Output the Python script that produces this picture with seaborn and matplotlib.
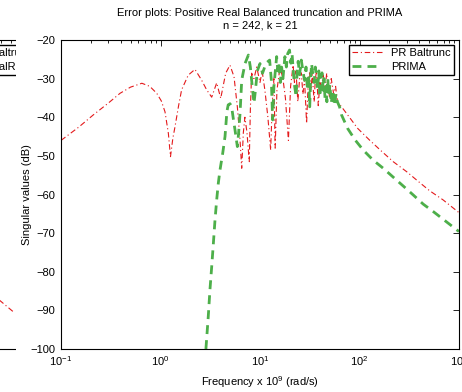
import matplotlib
matplotlib.use("Agg")
import matplotlib.pyplot as plt
from matplotlib.lines import Line2D
from matplotlib.patches import Rectangle
from matplotlib.ticker import LogLocator, NullFormatter, FixedLocator, FixedFormatter
import pandas as pd
import seaborn as sns

# ---------------- data ----------------
red_freq = [0.10, 0.15, 0.211, 0.30, 0.392, 0.50, 0.65, 0.78, 0.917, 1.02, 1.11, 1.20, 1.26,
            1.33, 1.40, 1.52, 1.63, 1.90, 2.22, 2.59, 2.91, 3.27, 3.67, 4.03, 4.52, 4.99, 5.48,
            5.92, 6.30, 6.55, 6.80, 7.05, 7.40, 7.80, 8.00, 8.24, 8.70, 9.27, 10.0, 10.5, 11.2,
            12.0, 12.8, 13.3, 13.8, 14.2, 14.8, 15.9, 17.0, 18.0, 19.3, 20.3, 21.5, 22.2, 23.0,
            24.0, 25.0, 26.0, 27.0, 28.0, 29.4, 30.5, 31.5, 32.5, 33.5, 35.0, 36.0, 37.0, 38.5,
            40.0, 41.5, 43.0, 44.5, 46.8, 48.5, 50.0, 52.0, 55.0, 57.5, 60.0,
            66.0, 76.0, 96.0, 126.0, 165.0, 218.0, 298.0, 385.0, 505.0, 692.0, 1000.0]
red_db = [-46.0, -42.6, -39.4, -36.3, -33.8, -32.2, -31.2, -32.0, -33.8, -35.8, -38.6, -44.2, -50.2,
          -45.5, -42.4, -37.0, -32.9, -29.1, -27.6, -30.4, -32.9, -34.8, -31.1, -35.1, -28.6, -26.5, -29.5,
          -37.3, -45.9, -53.2, -44.0, -40.0, -44.0, -51.5, -38.0, -28.6, -30.0, -27.0, -31.0, -28.0, -33.0,
          -40.0, -48.5, -36.0, -30.0, -48.0, -33.0, -27.0, -30.0, -35.0, -46.0, -32.0, -26.5, -31.0, -28.0,
          -36.0, -30.0, -28.5, -34.0, -30.0, -41.6, -31.0, -28.5, -33.0, -29.0, -36.0, -30.0, -28.0, -37.0,
          -31.0, -33.0, -29.0, -34.0, -28.6, -32.0, -35.0, -30.0, -34.0, -32.0, -36.0,
          -37.3, -39.4, -42.9, -45.9, -48.7, -51.5, -54.1, -56.5, -59.0, -61.4, -64.7]

green_freq = [2.86, 3.02, 3.14, 3.27, 3.40, 3.53, 3.67, 3.81, 3.96, 4.22, 4.45, 4.65, 4.79, 5.00,
              5.20, 5.40, 5.61, 5.92, 6.10, 6.30, 6.55, 7.07, 7.64, 8.00, 8.24, 8.70, 9.00, 9.40,
              10.0, 10.6, 11.5, 12.5, 13.0, 13.4, 13.8, 14.7, 15.1, 15.5, 16.0, 16.5, 17.0, 17.8,
              18.4, 19.0, 19.8, 20.4, 21.0, 21.6, 22.3, 23.1, 23.6, 24.2, 25.0, 26.0, 27.0, 28.0,
              29.0, 30.0, 30.8, 31.6, 32.3, 33.0, 34.0, 35.0, 36.0, 37.0, 38.0, 39.0, 40.0, 41.0,
              42.0, 43.0, 44.0, 45.0, 46.0, 47.0, 48.0, 49.0, 50.4, 52.0, 54.0, 56.0, 58.0, 60.0,
              63.0, 66.0, 76.0, 90.5, 109.0, 137.0, 173.0, 218.0,
              275.0, 346.0, 437.0, 550.0, 692.0, 912.0, 1000.0]
green_db = [-100.0, -91.6, -84.7, -78.7, -72.6, -66.6, -61.4, -57.1, -53.7, -49.3, -45.0, -38.5, -36.8, -36.5,
            -37.5, -40.5, -43.3, -47.6, -44.0, -39.0, -30.4, -26.1, -23.9, -27.0, -30.4, -36.4, -33.0, -28.0,
            -26.1, -28.6, -26.0, -25.2, -30.4, -40.7, -32.0, -24.3, -28.0, -26.0, -31.0, -27.0, -30.0, -24.3,
            -27.0, -23.5, -22.6, -26.0, -23.5, -28.0, -32.0, -34.7, -28.0, -25.5, -29.0, -25.2, -28.0, -30.4,
            -27.0, -33.0, -29.0, -37.3, -30.0, -26.1, -29.0, -31.0, -27.0, -30.0, -33.0, -28.0, -34.7, -30.0,
            -28.5, -33.0, -30.0, -35.0, -32.0, -36.0, -30.0, -34.0, -31.5, -36.4, -33.0, -37.0, -34.0, -36.0,
            -37.3, -39.4, -42.9, -45.9, -48.5, -51.1, -53.2, -55.5,
            -57.8, -60.1, -62.5, -64.4, -66.4, -68.8, -69.6]

# tail of the neighbouring (cropped) panel on the left
left_freq = [380.0, 540.0]
left_db = [-87.3, -90.6]

series_names = ["PR Baltrunc", "PRIMA"]
left_names = ["PR Baltrunc", "PR BalReal"]
title_text = "Error plots: Positive Real Balanced truncation and PRIMA\nn = 242, k = 21"
xlabel_text = "Frequency x 10$^{9}$ (rad/s)"
ylabel_text = "Singular values (dB)"
xtick_vals = [0.1, 1, 10, 100, 1000]
xtick_labels = ["10$^{-1}$", "10$^{0}$", "10$^{1}$", "10$^{2}$", "10$^{3}$"]
ytick_vals = [-100, -90, -80, -70, -60, -50, -40, -30, -20]

# ---------------- style ----------------
sns.set_theme(style="white")
plt.rcParams["font.family"] = ["Liberation Sans", "DejaVu Sans"]
plt.rcParams.update({
    "mathtext.default": "regular",
    "text.color": "black", "axes.labelcolor": "black",
    "xtick.color": "black", "ytick.color": "black",
    "axes.edgecolor": "black", "axes.linewidth": 0.8,
    "font.size": 8,
})

red = "#e41a1c"
green = "#4daf4a"
red_ls = (0, (5, 2.5, 1, 2.5))
green_ls = (0, (3.2, 2.2))

W, H = 462, 392
fig = plt.figure(figsize=(W / 100, H / 100), dpi=100)
fig.patch.set_facecolor("white")

ax_bottom = 1 - 349 / H
ax_height = 309 / H
ax_width = 398 / W

# --- cropped left panel ---
axl = fig.add_axes([(41 - 398) / W, ax_bottom, ax_width, ax_height], zorder=0)
df_left = pd.DataFrame({"f": left_freq, "db": left_db})
sns.lineplot(data=df_left, x="f", y="db", ax=axl, color=red, lw=0.8,
             linestyle=red_ls, sort=False, estimator=None, legend=False)
axl.set_xscale("log")
axl.set_xlim(0.1, 1000)
axl.set_ylim(-100, -20)
axl.set_xlabel("")
axl.set_ylabel("")
axl.tick_params(which="both", direction="in", top=True, right=True,
                labelbottom=False, labelleft=False)
axl.tick_params(which="major", length=4, width=0.6)
axl.tick_params(which="minor", length=2.5, width=0.6)
hl = [Line2D([], [], color=red, lw=0.8, linestyle=red_ls),
      Line2D([], [], color=green, lw=2.0, linestyle=green_ls)]
legl = axl.legend(hl, left_names, loc="upper right", bbox_to_anchor=(0.987, 0.984),
                  borderaxespad=0, fancybox=False, framealpha=1, edgecolor="black",
                  fontsize=8, handlelength=2.7, borderpad=0.3, labelspacing=0.35)
legl.get_frame().set_linewidth(1.0)

# white gap between the two panels
fig.patches.append(Rectangle((16 / W, 0), (61 - 16) / W, 1, transform=fig.transFigure,
                             facecolor="white", edgecolor="none", zorder=1))

# --- main panel ---
ax = fig.add_axes([61 / W, ax_bottom, ax_width, ax_height], zorder=2)
df_red = pd.DataFrame({"f": red_freq, "db": red_db})
df_green = pd.DataFrame({"f": green_freq, "db": green_db})
sns.lineplot(data=df_red, x="f", y="db", ax=ax, color=red, lw=0.8, linestyle=red_ls,
             sort=False, estimator=None, label=series_names[0])
sns.lineplot(data=df_green, x="f", y="db", ax=ax, color=green, lw=2.0, linestyle=green_ls,
             sort=False, estimator=None, label=series_names[1])
ax.set_xscale("log")
ax.set_xlim(0.1, 1000)
ax.set_ylim(-100, -20)
ax.xaxis.set_major_locator(FixedLocator(xtick_vals))
ax.xaxis.set_major_formatter(FixedFormatter(xtick_labels))
ax.xaxis.set_minor_locator(LogLocator(base=10, subs=range(2, 10), numticks=20))
ax.xaxis.set_minor_formatter(NullFormatter())
ax.set_yticks(ytick_vals)
ax.tick_params(which="both", direction="in", top=True, right=True, labelsize=8)
ax.tick_params(which="major", length=4, width=0.6, pad=4)
ax.tick_params(which="minor", length=2.5, width=0.6)
ax.set_xlabel(xlabel_text, fontsize=8, labelpad=4)
ax.set_ylabel(ylabel_text, fontsize=8)
ax.yaxis.set_label_coords(-0.072, 0.5)
ax.set_title(title_text, fontsize=8, pad=8.5, linespacing=1.25)
for s in ax.spines.values():
    s.set_visible(True)
    s.set_linewidth(0.8)

leg = ax.legend(loc="upper right", bbox_to_anchor=(0.987, 0.984), borderaxespad=0,
                fancybox=False, framealpha=1, edgecolor="black", fontsize=8,
                handlelength=2.7, borderpad=0.3, labelspacing=0.35)
leg.get_frame().set_linewidth(1.0)

fig.savefig("out.png", dpi=100)
